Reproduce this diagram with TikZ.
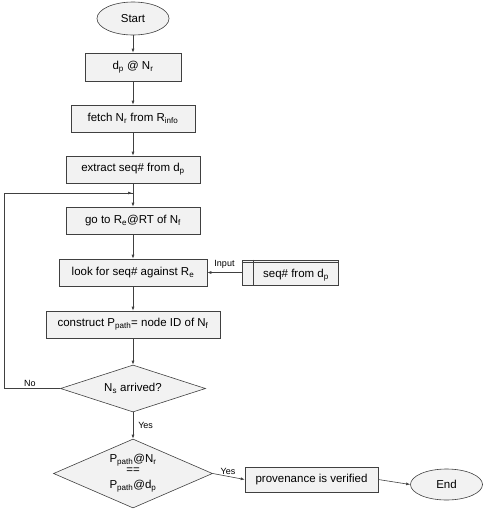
\documentclass[tikz,border=0pt]{standalone}
\usepackage{fontspec}
\setmainfont{Liberation Sans}
\usetikzlibrary{shapes.geometric,arrows.meta,calc}
\begin{document}
\begin{tikzpicture}[x=1pt,y=-1pt,
  every node/.style={font=\fontsize{11.5}{13}\selectfont},
  proc/.style={draw=black!75, fill=black!5, rectangle, inner sep=0pt, line width=0.6pt},
  term/.style={draw=black!75, fill=black!5, ellipse, inner sep=0pt, line width=0.6pt},
  dec/.style={draw=black!75, fill=black!5, diamond, inner sep=0pt, line width=0.6pt},
  arr/.style={draw=black!75, line width=0.6pt, -{Latex[length=4pt,width=3pt]}},
  lbl/.style={font=\fontsize{9}{10}\selectfont, inner sep=0pt}
]
\useasboundingbox (0,0) rectangle (485,512);
\node[term, minimum width=72pt, minimum height=33pt] (start) at (133,18.5) {Start};
\node[proc, minimum width=96pt, minimum height=28pt] (b1) at (133,67) {d\textsubscript{p} @ N\textsubscript{r}};
\node[proc, minimum width=124pt, minimum height=27pt] (b2) at (133,118.5) {fetch N\textsubscript{r} from R\textsubscript{info}};
\node[proc, minimum width=134pt, minimum height=27pt] (b3) at (133,169.5) {extract seq\# from d\textsubscript{p}};
\node[proc, minimum width=134pt, minimum height=27pt] (b4) at (133,220.5) {go to R\textsubscript{e}@RT of N\textsubscript{f}};
\node[proc, minimum width=148pt, minimum height=27pt] (b5) at (133,272.5) {look for seq\# against R\textsubscript{e}};
\node[proc, minimum width=174pt, minimum height=27pt] (b6) at (133,324.5) {construct P\textsubscript{path}= node ID of N\textsubscript{f}};
\node[dec, minimum width=145pt, minimum height=47pt, aspect=3] (d1) at (133,388.5) {N\textsubscript{s} arrived?};
\node[dec, minimum width=159pt, minimum height=69pt, aspect=2.3, align=center] (d2) at (133,473.5) {P\textsubscript{path}@N\textsubscript{r}\\[-2pt]==\\[2pt]P\textsubscript{path}@d\textsubscript{p}};
\node[proc, minimum width=133pt, minimum height=25pt] (prov) at (311.5,479.5) {provenance is verified};
\node[term, minimum width=72pt, minimum height=31pt] (end) at (446.5,484.5) {End};
\node[proc, minimum width=96pt, minimum height=25pt] (store) at (290,272.5) {};
\draw[black!75, line width=0.6pt] ([xshift=12pt]store.north west) -- ([xshift=12pt]store.south west);
\draw[black!75, line width=0.6pt] ([yshift=-2.4pt]store.north west) -- ([yshift=-2.4pt]store.north east);
\node[inner sep=0pt] (storetxt) at (296,275) {seq\# from d\textsubscript{p}};
\coordinate (loopin) at (133,193);
\coordinate (loopl) at (4,193);
\coordinate (loopb) at (4,388.5);
\draw[arr] (start) -- (b1);
\draw[arr] (b1) -- (b2);
\draw[arr] (b2) -- (b3);
\draw[arr] (b3) -- (b4);
\draw[arr] (b4) -- (b5);
\draw[arr] (b5) -- (b6);
\draw[arr] (b6) -- (d1);
\draw[arr] (d1) -- node[lbl, right, xshift=5pt] {Yes} (d2);
\draw[arr] (d2.east) -- (prov.west);
\node[lbl] at (228,471) {Yes};
\draw[arr] (prov.east) -- (end.west);
\draw[arr] (store.west) -- node[lbl, above, yshift=4pt] {Input} (b5.east);
\draw[black!75, line width=0.6pt] (d1.west) -- (loopb) -- (loopl) -- (loopin);
\draw[arr] (loopl) -- ([xshift=-1pt]loopin);
\node[lbl] at (30,383) {No};
\end{tikzpicture}
\end{document}
